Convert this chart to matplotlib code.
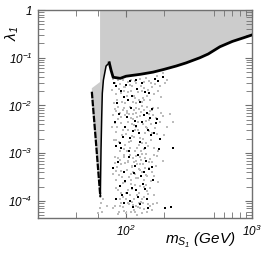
import numpy as np
import matplotlib
matplotlib.use("Agg")
import matplotlib.pyplot as plt
from matplotlib.ticker import FixedLocator, FixedFormatter, LogLocator, NullFormatter

plt.rcParams['mathtext.fontset'] = 'custom'
plt.rcParams['mathtext.rm'] = 'Liberation Sans:italic'
plt.rcParams['mathtext.it'] = 'Liberation Sans:italic'
plt.rcParams['font.family'] = 'Liberation Sans'

# relic density boundary curve (m in GeV, lambda_1)
curve_m = [53.5, 55.5, 57.5, 59.5, 61, 62.5, 62.8, 63.3, 64.1, 64.8, 66.1, 69.4, 73.6, 76, 79,
           90, 100, 130, 164, 200, 250, 300, 386, 450, 557, 700, 850, 1000]
curve_lam = [0.0194, 0.0059, 0.0019, 0.00061, 0.00027, 0.000123, 0.0003, 0.0012, 0.0057, 0.018,
             0.034, 0.067, 0.0785, 0.055, 0.039, 0.037, 0.041, 0.045, 0.050, 0.057, 0.067, 0.078,
             0.10, 0.12, 0.17, 0.22, 0.26, 0.30]
edge_m = 62.2          # left edge of the excluded region
band_top = [0.023, 0.031]

# grey scan points
grey_m = [82, 88, 95, 101, 107, 113, 118, 124, 131, 137, 144, 150, 158, 166, 175, 186, 198, 212,
          85, 92, 99, 104, 110, 121, 128, 140, 154, 171, 190,
          81, 86, 90, 94, 97, 103, 106, 111, 115, 119, 123, 127, 132, 136, 141, 146, 152, 157, 163, 170,
          178, 185, 195, 83, 88, 92, 96, 100, 108, 113, 117, 125, 130, 134, 139, 148, 155, 160, 167, 174,
          82, 87, 99, 105, 121, 143, 150,
          81, 85, 89, 93, 96, 101, 104, 109, 113, 118, 122, 126, 131, 135, 140, 145, 151, 156, 162, 168,
          176, 83, 87, 91, 95, 99, 107, 112, 116, 124, 129, 133, 138, 147, 154, 159, 166, 173, 84, 98,
          103, 120, 142, 149, 110, 128,
          82, 88, 94, 100, 106, 115, 122, 130, 137, 146, 155, 92, 112, 119, 127, 134, 165,
          62, 64, 63, 84, 91, 97, 102, 109, 116, 133, 139, 144, 152, 161, 180, 200, 225, 236]
grey_lam = [0.030, 0.022, 0.035, 0.016, 0.027, 0.012, 0.033, 0.019, 0.025, 0.014, 0.038, 0.021,
            0.030, 0.017, 0.042, 0.026, 0.048, 0.035,
            0.013, 0.018, 0.011, 0.031, 0.020, 0.011, 0.036, 0.023, 0.013, 0.028, 0.015,
            0.0085, 0.0052, 0.0071, 0.0031, 0.0090, 0.0045, 0.0066, 0.0023, 0.0080, 0.0036, 0.0058,
            0.0015, 0.0072, 0.0041, 0.0027, 0.0095, 0.0050, 0.0019, 0.0064, 0.0033, 0.0088, 0.0045,
            0.0060, 0.0028, 0.0017, 0.0043, 0.0012, 0.0025, 0.0013, 0.0052, 0.0011, 0.0030, 0.0021,
            0.0098, 0.0012, 0.0034, 0.0076, 0.0026, 0.0013, 0.0055,
            0.0042, 0.0095, 0.0062, 0.0017, 0.0068, 0.0048, 0.0014,
            0.00085, 0.00052, 0.00071, 0.00031, 0.00090, 0.00045, 0.00066, 0.00023, 0.00080, 0.00036,
            0.00058, 0.00015, 0.00072, 0.00041, 0.00027, 0.00095, 0.00050, 0.00019, 0.00064, 0.00033,
            0.00088, 0.00028, 0.00017, 0.00043, 0.00012, 0.00025, 0.00013, 0.00052, 0.00011, 0.00030,
            0.00021, 0.00098, 0.00012, 0.00034, 0.00076, 0.00026, 0.00013, 0.00055, 0.00042, 0.00062,
            0.00017, 0.00068, 0.00048, 0.00014, 0.00036, 0.00044,
            8e-5, 6e-5, 7.5e-5, 5.5e-5, 8.5e-5, 6.5e-5, 5e-5, 7e-5, 9e-5, 6e-5, 8e-5, 9e-5, 9.5e-5,
            7.8e-5, 9.2e-5, 5.6e-5, 8.8e-5,
            7e-5, 6e-5, 9e-5, 0.0019, 0.00015, 0.024, 0.0075, 0.00028, 0.0039, 0.0016, 0.013, 0.00022,
            0.0029, 0.0081, 0.0011, 0.0024, 0.0065, 0.0045]

grey2_m = [79, 84, 90, 93, 98, 103, 109, 115, 120, 126, 133, 139, 147, 161, 180, 205, 80, 87, 97,
           112, 134, 152, 78, 118,
           79, 80, 84, 85, 89, 91, 93, 95, 98, 102, 104, 107, 109, 112, 114, 116, 120, 122, 124, 129,
           131, 137, 140, 145, 151, 158, 165, 176, 190, 210, 78, 101, 118, 127, 143, 110,
           81, 83, 86, 88, 90, 92, 94, 97, 100, 103, 105, 108, 111, 113, 115, 117, 121, 123, 126, 130,
           133, 138, 142, 147, 153, 160, 168, 180, 195, 79, 100, 119, 128, 144, 111, 136,
           79, 86, 90, 97, 103, 109, 113, 118, 125, 132, 140, 150, 160, 175,
           60, 66, 70]
grey2_lam = [0.036, 0.017, 0.028, 0.012, 0.024, 0.019, 0.034, 0.016, 0.029, 0.013, 0.020, 0.031,
             0.016, 0.024, 0.020, 0.030, 0.011, 0.034, 0.020, 0.026, 0.012, 0.033, 0.021, 0.014,
             0.0062, 0.0019, 0.0078, 0.0035, 0.0011, 0.0058, 0.0024, 0.0082, 0.0015, 0.0070, 0.0031,
             0.0092, 0.0018, 0.0040, 0.0065, 0.0022, 0.0087, 0.0013, 0.0046, 0.0060, 0.0011, 0.0020,
             0.0080, 0.0016, 0.0065, 0.0040, 0.0090, 0.0025, 0.0070, 0.0035, 0.0036, 0.0011, 0.0030,
             0.0083, 0.0035, 0.0055,
             0.00062, 0.00019, 0.00078, 0.00035, 0.00011, 0.00058, 0.00024, 0.00082, 0.00015, 0.00070,
             0.00031, 0.00092, 0.00018, 0.00040, 0.00065, 0.00022, 0.00087, 0.00013, 0.00046, 0.00060,
             0.00011, 0.00020, 0.00080, 0.00016, 0.00065, 0.00040, 0.00090, 0.00025, 0.00070,
             0.00036, 0.00011, 0.00030, 0.00083, 0.00035, 0.00055, 0.00060,
             7e-5, 5.2e-5, 8e-5, 6.2e-5, 9e-5, 5.8e-5, 8.2e-5, 6e-5, 7.5e-5, 9.5e-5, 6.8e-5, 8.5e-5,
             6.5e-5, 9e-5,
             5.5e-5, 1.1e-4, 8e-5]

# black scan points
black_m = [84, 96, 108, 122, 135, 152, 170, 180, 195, 88, 99, 110, 117, 126, 138, 149, 160, 172,
           186, 83, 94, 105, 114, 128, 142, 157, 182, 86, 97, 106, 118, 131, 144, 153, 164, 236,
           90, 102, 111, 124, 136, 147, 84, 96, 113, 128, 150, 204, 226,
           80, 85, 92, 100, 104, 112, 119, 130, 141, 155, 167, 81, 89, 101, 108, 121, 133, 146, 175,
           79, 91, 99, 115, 125, 139, 160, 93, 107, 120, 142]
black_lam = [0.025, 0.015, 0.033, 0.022, 0.030, 0.018, 0.036, 0.032, 0.040, 0.0065, 0.0035, 0.0090,
             0.0048, 0.0026, 0.0062, 0.0030, 0.0085, 0.0042, 0.0020, 0.0014, 0.0022, 0.0011, 0.0029,
             0.0017, 0.0013, 0.0024, 0.0012, 0.00065, 0.00040, 0.00082, 0.00055, 0.00033, 0.00070,
             0.00046, 0.00028, 0.0013, 0.00021, 0.00015, 0.00019, 0.00012, 0.00023, 0.00011, 0.00011,
             9e-5, 7.5e-5, 8.5e-5, 7e-5, 7e-5, 7.5e-5,
             0.030, 0.011, 0.020, 0.027, 0.013, 0.016, 0.035, 0.012, 0.019, 0.0055, 0.0026, 0.0045,
             0.0016, 0.0058, 0.0021, 0.0037, 0.0044, 0.0068, 0.0052, 0.00048, 0.0013, 0.00026,
             0.00038, 0.00090, 0.00040, 0.00052, 0.00013, 0.00010, 0.00017, 0.00018]

fig = plt.figure(figsize=(2.66, 2.57), dpi=100)
ax = fig.add_axes([0.143, 0.152, 0.804, 0.809])

# excluded (grey) region above the curve, incl. the band inside the resonance
i_dip = curve_lam.index(min(curve_lam))
i_peak = curve_lam.index(max(curve_lam[:16]))
poly_m = [edge_m, 1000] + curve_m[i_dip:][::-1] + curve_m[:i_dip][::-1] + [curve_m[0], edge_m]
poly_lam = [1, 1] + curve_lam[i_dip:][::-1] + curve_lam[:i_dip][::-1] + band_top
ax.fill(poly_m, poly_lam, color='#cccccc', lw=0, zorder=1)

ax.scatter(grey_m + grey2_m, grey_lam + grey2_lam, s=4.2, marker='s', color='#bcbcbc', lw=0, zorder=2)
ax.scatter(black_m, black_lam, s=4, marker='s', color='black', lw=0, zorder=3)

ax.plot(curve_m[:i_dip + 1], curve_lam[:i_dip + 1], color='black', lw=1.6, ls=(0, (3, 0.6)), zorder=4)
ax.plot(curve_m[i_dip:i_peak + 1], curve_lam[i_dip:i_peak + 1], color='black', lw=1.1, zorder=4)
ax.plot(curve_m[i_peak:], curve_lam[i_peak:], color='black', lw=2.0, zorder=4)

ax.set_xscale('log')
ax.set_yscale('log')
ax.set_xlim(20, 1000)
ax.set_ylim(4.4e-5, 1)

ax.xaxis.set_major_locator(FixedLocator([100, 1000]))
ax.xaxis.set_major_formatter(FixedFormatter([r'$10^2$', r'$10^3$']))
ax.xaxis.set_minor_locator(FixedLocator([40, 60, 200, 500, 600, 700, 800, 900]))
ax.xaxis.set_minor_formatter(NullFormatter())
ax.yaxis.set_major_locator(FixedLocator([1e-4, 1e-3, 1e-2, 1e-1, 1]))
ax.yaxis.set_major_formatter(FixedFormatter([r'$10^{-4}$', r'$10^{-3}$', r'$10^{-2}$', r'$10^{-1}$', r'$1$']))
ax.yaxis.set_minor_locator(LogLocator(base=10, subs=np.arange(2, 10), numticks=20))
ax.yaxis.set_minor_formatter(NullFormatter())

ax.tick_params(which='both', direction='in', top=True, right=True, color='#707070',
               labelsize=8.5, pad=4)
ax.tick_params(which='major', length=5)
ax.tick_params(which='minor', length=4)
for s in ax.spines.values():
    s.set_color('#707070')
    s.set_linewidth(1)

fig.text(0.045, 0.87, r'$\lambda_1$', rotation=90, fontsize=11, ha='center', va='center')
fig.text(0.755, 0.065, r'$m_{S_1}$ (GeV)', fontsize=11, style='italic', ha='center', va='center')

fig.savefig('out.png', dpi=100)
